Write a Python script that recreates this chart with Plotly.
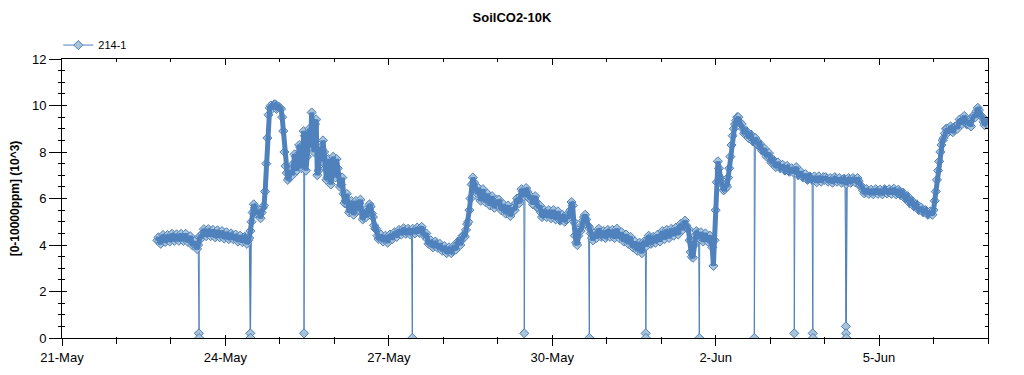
import pandas as pd
import plotly.graph_objects as go

# ---------------- data (10^3 ppm) ----------------
series_name = "214-1"
start_time = "2021-05-22 18:00"      # first hourly reading
half_start_time = "2021-05-22 18:30"  # first half-hour reading

# readings on the hour
may22 = [4.2, 4.15, 4.25, 4.3, 4.25, 4.3]
may23 = [4.3, 4.35, 4.3, 4.32, 4.35, 4.3, 4.35, 4.3, 4.25, 4.2, 4.05, 3.95,
         4.0, 4.4, 4.5, 4.55, 4.5, 4.55, 4.5, 4.5, 4.45, 4.5, 4.45, 4.45]
may24 = [4.4, 4.4, 4.35, 4.4, 4.35, 4.3, 4.3, 4.25, 4.3, 4.2, 4.2, 4.6,
         5.4, 5.6, 5.4, 5.3, 5.4, 5.7, 7.5, 9.6, 10.0, 10.0, 10.05, 9.9]
may25 = [9.9, 9.5, 8.0, 7.1, 6.9, 7.2, 7.5, 7.8, 7.6, 8.2, 7.6, 8.7,
         7.8, 9.0, 9.7, 8.0, 9.4, 7.2, 8.2, 8.5, 7.3, 6.9, 7.5, 7.0]
may26 = [7.5, 7.7, 7.0, 6.6, 6.2, 5.9, 5.7, 5.5, 5.6, 5.5, 5.7, 5.8,
         5.4, 5.2, 5.2, 5.5, 5.65, 5.2, 4.7, 4.4, 4.3, 4.25, 4.3, 4.2]
may27 = [4.3, 4.35, 4.4, 4.45, 4.5, 4.55, 4.6, 4.6, 4.55, 4.6, 4.55, 4.6,
         4.65, 4.6, 4.7, 4.6, 4.45, 4.25, 4.1, 4.05, 4.0, 4.05, 3.95, 3.9]
may28 = [3.85, 3.8, 3.75, 3.8, 3.75, 3.85, 4.0, 4.1, 4.2, 4.4, 4.65, 5.0,
         6.0, 6.9, 6.5, 6.2, 6.0, 6.2, 6.1, 5.95, 6.0, 5.9, 5.8, 5.75]
may29 = [5.7, 5.8, 5.6, 5.5, 5.6, 5.4, 5.4, 5.6, 5.8, 5.9, 6.1, 6.3,
         6.25, 6.3, 6.0, 5.9, 6.0, 5.85, 5.6, 5.4, 5.3, 5.4, 5.35, 5.3]
may30 = [5.35, 5.25, 5.3, 5.2, 5.1, 5.2, 5.1, 5.15, 5.5, 5.7, 4.4, 4.0,
         4.7, 4.85, 5.2, 5.1, 4.8, 4.5, 4.2, 4.4, 4.5, 4.55, 4.4, 4.5]
may31 = [4.4, 4.55, 4.5, 4.4, 4.55, 4.45, 4.4, 4.3, 4.35, 4.2, 4.3, 4.1,
         4.0, 3.9, 4.0, 3.8, 3.95, 4.1, 4.2, 4.3, 4.1, 4.3, 4.25, 4.3]
jun1 = [4.35, 4.4, 4.5, 4.4, 4.55, 4.5, 4.6, 4.55, 4.7, 4.8, 4.9, 4.85,
        4.7, 3.7, 3.45, 4.4, 4.5, 4.4, 4.3, 4.4, 4.3, 4.25, 4.2, 3.1]
jun2 = [5.5, 7.6, 6.9, 6.6, 6.4, 6.5, 7.3, 8.3, 9.0, 9.35, 9.5, 9.2,
        9.0, 8.85, 8.75, 8.7, 8.6, 8.5, 8.45, 8.3, 8.2, 8.1, 7.95, 7.9]
jun3 = [7.75, 7.6, 7.5, 7.45, 7.4, 7.35, 7.3, 7.25, 7.3, 7.2, 7.2, 7.25,
        7.15, 7.05, 7.0, 6.95, 6.9, 6.85, 6.9, 6.85, 6.8, 6.85, 6.8, 6.85]
jun4 = [6.8, 6.85, 6.8, 6.75, 6.8, 6.85, 6.8, 6.75, 6.8, 6.7, 6.75, 6.8,
        6.75, 6.8, 6.8, 6.75, 6.55, 6.35, 6.3, 6.3, 6.3, 6.25, 6.3, 6.3]
jun5 = [6.3, 6.25, 6.3, 6.35, 6.3, 6.3, 6.35, 6.3, 6.25, 6.3, 6.2, 6.1,
        6.05, 5.95, 5.85, 5.75, 5.7, 5.6, 5.55, 5.5, 5.45, 5.4, 5.35, 5.35]
jun6 = [5.5, 6.3, 7.2, 8.0, 8.5, 8.8, 9.0, 8.95, 9.0, 8.95, 9.1, 9.2,
        9.3, 9.35, 9.4, 9.2, 9.15, 9.4, 9.6, 9.75, 9.8, 9.55, 9.3, 9.25]
jun7 = [9.2]

# readings on the half hour
may22b = [4.33, 4.05, 4.43, 4.13, 4.43, 4.15]
may23b = [4.48, 4.18, 4.46, 4.18, 4.48, 4.18, 4.48, 4.13, 4.38, 3.98, 4.15, 3.83,
          4.35, 4.3, 4.68, 4.38, 4.68, 4.38, 4.65, 4.33, 4.63, 4.33, 4.6, 4.28]
may24b = [4.55, 4.25, 4.5, 4.25, 4.45, 4.15, 4.4, 4.12, 4.35, 4.05, 4.3, 5.0,
          5.75, 5.35, 5.5, 5.15, 5.6, 6.3, 8.6, 9.9, 9.85, 10.05, 9.85, 9.95]
may25b = [9.85, 8.9, 7.4, 6.8, 7.1, 7.0, 7.9, 7.2, 8.3, 7.3, 8.9, 7.2,
          8.8, 8.2, 8.8, 9.2, 7.0, 8.0, 7.6, 8.0, 6.8, 7.7, 6.6, 7.8]
may26b = [6.9, 7.3, 6.5, 6.9, 5.8, 6.2, 5.4, 5.9, 5.3, 5.9, 5.5, 5.95,
          5.1, 5.5, 5.4, 5.75, 5.35, 4.85, 4.7, 4.25, 4.45, 4.15, 4.4, 4.1]
may27b = [4.45, 4.25, 4.55, 4.35, 4.65, 4.45, 4.72, 4.48, 4.7, 4.45, 4.7, 4.5,
          4.75, 4.52, 4.78, 4.4, 4.5, 4.05, 4.2, 3.9, 4.15, 3.88, 4.05, 3.75]
may28b = [3.95, 3.65, 3.9, 3.65, 3.95, 3.8, 4.15, 4.0, 4.4, 4.35, 4.9, 5.5,
          6.6, 6.7, 6.35, 6.45, 5.9, 6.4, 5.85, 6.2, 5.7, 6.1, 5.6, 5.95]
may29b = [5.95, 5.5, 5.75, 5.35, 5.7, 5.25, 5.6, 5.5, 6.0, 5.8, 6.4, 6.1,
          6.45, 6.05, 6.1, 5.75, 6.1, 5.6, 5.7, 5.2, 5.5, 5.2, 5.5, 5.15]
may30b = [5.5, 5.1, 5.45, 5.05, 5.3, 5.0, 5.3, 5.3, 5.85, 5.0, 4.1, 4.4,
          4.6, 5.05, 5.3, 4.85, 4.7, 4.3, 4.5, 4.3, 4.7, 4.35, 4.6, 4.3]
may31b = [4.65, 4.35, 4.65, 4.3, 4.7, 4.3, 4.55, 4.15, 4.45, 4.05, 4.35, 3.9,
          4.15, 3.75, 4.1, 3.65, 4.15, 3.95, 4.4, 4.05, 4.35, 4.1, 4.45, 4.15]
jun1b = [4.6, 4.25, 4.65, 4.3, 4.7, 4.4, 4.75, 4.45, 4.9, 4.65, 5.05, 4.7,
         4.2, 3.5, 4.0, 4.6, 4.3, 4.55, 4.15, 4.5, 4.15, 4.4, 3.9, 4.2]
jun2b = [6.7, 7.3, 6.7, 6.35, 6.6, 6.9, 7.8, 8.7, 9.2, 9.5, 9.3, 9.2,
         8.8, 8.9, 8.6, 8.75, 8.45, 8.6, 8.3, 8.35, 8.05, 8.15, 7.8, 7.95]
jun3b = [7.55, 7.65, 7.35, 7.55, 7.3, 7.45, 7.2, 7.4, 7.15, 7.3, 7.1, 7.35,
         7.0, 7.15, 6.9, 7.05, 6.8, 6.95, 6.8, 6.95, 6.7, 6.95, 6.72, 6.92]
jun4b = [6.92, 6.72, 6.88, 6.68, 6.92, 6.72, 6.88, 6.68, 6.85, 6.62, 6.88, 6.68,
         6.88, 6.7, 6.88, 6.55, 6.5, 6.22, 6.4, 6.2, 6.38, 6.18, 6.4, 6.2]
jun5b = [6.38, 6.18, 6.4, 6.22, 6.4, 6.2, 6.42, 6.18, 6.38, 6.15, 6.25, 6.0,
         6.1, 5.8, 5.9, 5.65, 5.75, 5.5, 5.62, 5.4, 5.5, 5.3, 5.45, 5.3]
jun6b = [5.9, 6.8, 7.6, 8.3, 8.6, 9.0, 8.85, 9.1, 8.85, 9.1, 9.0, 9.4,
         9.2, 9.55, 9.2, 9.35, 9.1, 9.55, 9.5, 9.9, 9.6, 9.5, 9.15, 9.3]

# sensor dropouts (readings near zero)
drop_times = ["2021-05-23 12:20", "2021-05-23 12:25",
              "2021-05-24 10:58", "2021-05-24 11:03",
              "2021-05-25 10:38",
              "2021-05-27 10:21",
              "2021-05-29 11:41",
              "2021-05-30 16:21",
              "2021-05-31 17:11", "2021-05-31 17:16",
              "2021-06-01 16:48",
              "2021-06-02 17:02",
              "2021-06-03 10:39",
              "2021-06-03 18:46", "2021-06-03 18:51",
              "2021-06-04 09:24", "2021-06-04 09:28", "2021-06-04 09:32"]
drop_values = [0.2, 0.0,
               0.2, 0.0,
               0.2,
               0.0,
               0.2,
               0.0,
               0.2, 0.0,
               0.0,
               0.0,
               0.2,
               0.2, 0.0,
               0.5, 0.2, 0.0]

tick_dates = ["2021-05-21", "2021-05-24", "2021-05-27", "2021-05-30",
              "2021-06-02", "2021-06-05"]
tick_labels = ["21-May", "24-May", "27-May", "30-May", "2-Jun", "5-Jun"]
x_range = ["2021-05-21", "2021-06-07"]
y_range = [0, 12]

# ---------------- assemble ----------------
hourly = (may22 + may23 + may24 + may25 + may26 + may27 + may28 + may29 +
          may30 + may31 + jun1 + jun2 + jun3 + jun4 + jun5 + jun6 + jun7)
half = (may22b + may23b + may24b + may25b + may26b + may27b + may28b +
        may29b + may30b + may31b + jun1b + jun2b + jun3b + jun4b + jun5b +
        jun6b)
t_h = pd.date_range(start_time, periods=len(hourly), freq="h")
t_b = pd.date_range(half_start_time, periods=len(half), freq="h")
body = pd.DataFrame({"t": list(t_h) + list(t_b),
                     "v": hourly + half}).sort_values("t")
df = pd.DataFrame({
    "t": list(t_h) + list(t_b) + list(pd.to_datetime(drop_times)),
    "v": hourly + half + drop_values,
}).sort_values("t")

LINE = "#4f81bd"
FILL = "#a9c3d8"
FONT = "Liberation Sans"
DAY_MS = 86400000

fig = go.Figure()
fig.add_trace(go.Scatter(
    x=df["t"], y=df["v"], mode="lines+markers", name=series_name,
    line=dict(color=LINE, width=1),
    marker=dict(symbol="diamond", size=7, color=FILL,
                line=dict(color=LINE, width=1)),
))
# dense core of the marker ribbon (same readings, no dropouts)
fig.add_trace(go.Scatter(
    x=body["t"], y=body["v"], mode="lines", showlegend=False,
    hoverinfo="skip", line=dict(color=LINE, width=5),
))
# empty helper traces so the tick-only overlay axes get drawn
fig.add_trace(go.Scatter(x=[], y=[], xaxis="x2", yaxis="y2",
                         showlegend=False, hoverinfo="skip"))
fig.add_trace(go.Scatter(x=[], y=[], xaxis="x3", yaxis="y3",
                         showlegend=False, hoverinfo="skip"))

xcommon = dict(type="date", range=x_range, tickmode="array",
               tickvals=tick_dates, ticktext=tick_labels, showgrid=False,
               zeroline=False, tickcolor="black", automargin=False)
ycommon = dict(range=y_range, dtick=2, tick0=0, showgrid=False,
               zeroline=False, tickcolor="black", automargin=False)

layout = dict(
    width=1016, height=367,
    margin=dict(l=54, r=36, t=51, b=37),
    paper_bgcolor="white", plot_bgcolor="white",
    title=dict(text="<b>SoilCO2-10K</b>", x=0.496, xref="container",
               y=0.973, yref="container", yanchor="middle", xanchor="center",
               font=dict(family=FONT, size=13, color="black")),
    showlegend=True,
    legend=dict(orientation="h", x=-0.004, xanchor="left", y=1.05,
                yanchor="middle",
                font=dict(family=FONT, size=11, color="black"),
                bgcolor="rgba(0,0,0,0)"),
    xaxis=dict(**xcommon, showline=True, linecolor="black", linewidth=1,
               mirror=True, ticks="outside", ticklen=7,
               tickfont=dict(family=FONT, size=13, color="black"),
               minor=dict(dtick=DAY_MS, tick0="2021-05-21", ticks="outside",
                          ticklen=5, tickcolor="black", showgrid=False)),
    yaxis=dict(**ycommon, showline=True, linecolor="black", linewidth=1,
               mirror=True, ticks="outside", ticklen=12,
               tickfont=dict(family=FONT, size=13, color="black"),
               title=dict(text="[0-10000ppm] (10^3)", standoff=9,
                          font=dict(family=FONT, size=12, color="black",
                                    weight="bold")),
               minor=dict(dtick=0.5, ticks="outside", ticklen=3,
                          tickcolor="black", showgrid=False)),
    # inner half of the crossing ticks on bottom / left
    xaxis2=dict(**xcommon, overlaying="x", anchor="y2", side="bottom",
                ticks="inside", ticklen=3, showticklabels=False,
                showline=False,
                minor=dict(dtick=DAY_MS, tick0="2021-05-21", ticks="inside",
                           ticklen=1, tickcolor="black", showgrid=False)),
    yaxis2=dict(**ycommon, overlaying="y", anchor="x2", side="left",
                ticks="inside", ticklen=5, showticklabels=False,
                showline=False,
                minor=dict(dtick=0.5, ticks="inside", ticklen=3,
                           tickcolor="black", showgrid=False)),
    # inward ticks on top / right
    xaxis3=dict(**xcommon, overlaying="x", anchor="y3", side="top",
                ticks="inside", ticklen=6, showticklabels=False,
                showline=False,
                minor=dict(dtick=DAY_MS, tick0="2021-05-21", ticks="inside",
                           ticklen=3, tickcolor="black", showgrid=False)),
    yaxis3=dict(**ycommon, overlaying="y", anchor="x3", side="right",
                ticks="inside", ticklen=5, showticklabels=False,
                showline=False,
                minor=dict(dtick=0.5, ticks="inside", ticklen=3,
                           tickcolor="black", showgrid=False)),
)
fig.update_layout(**layout)

fig.write_html("out.html")
